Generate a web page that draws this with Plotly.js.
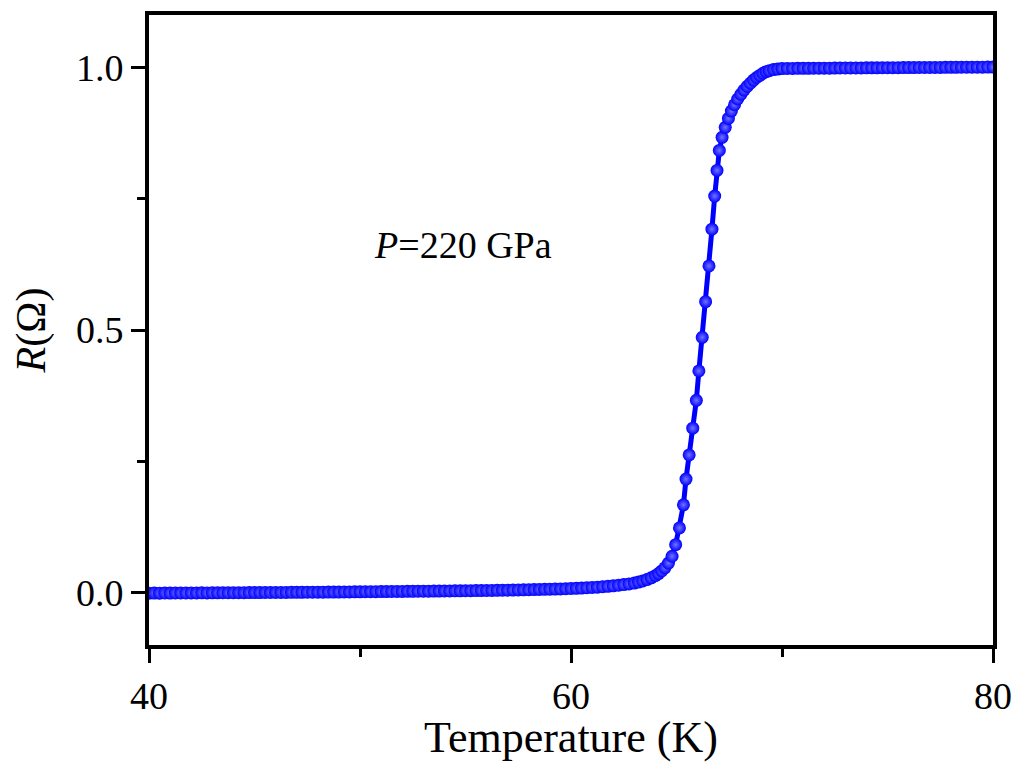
<!DOCTYPE html>
<html>
<head>
<meta charset="utf-8">
<script src="https://cdn.plot.ly/plotly-3.0.1.min.js"></script>
<style>html,body{margin:0;padding:0;background:#fff;}#chart{width:1014px;height:762px;}</style>
</head>
<body>
<div id="chart"></div>
<script>
// Temperature (K)
var temperature = [
40.00,40.25,40.50,40.75,41.00,41.25,41.50,41.75,42.00,42.25,42.50,42.75,43.00,43.25,43.50,43.75,
44.00,44.25,44.50,44.75,45.00,45.25,45.50,45.75,46.00,46.25,46.50,46.75,47.00,47.25,47.50,47.75,
48.00,48.25,48.50,48.75,49.00,49.25,49.50,49.75,50.00,50.25,50.50,50.75,51.00,51.25,51.50,51.75,
52.00,52.25,52.50,52.75,53.00,53.25,53.50,53.75,54.00,54.25,54.50,54.75,55.00,55.25,55.50,55.75,
56.00,56.25,56.50,56.75,57.00,57.25,57.50,57.75,58.00,58.25,58.50,58.75,59.00,59.25,59.50,59.75,
60.00,60.25,60.50,60.75,61.00,61.25,61.50,61.75,62.00,62.25,62.50,62.75,
63.00,63.20,63.40,63.60,63.80,64.00,64.15,64.30,64.45,64.62,
64.79,64.96,65.14,65.33,65.45,65.60,65.77,65.94,66.06,66.22,66.38,66.54,66.68,66.81,66.92,67.03,67.16,67.31,67.46,
67.60,67.75,67.90,68.05,68.20,68.35,68.50,68.65,68.80,68.95,69.10,69.25,69.40,69.60,69.80,70.00,
70.25,70.50,70.75,71.00,71.25,71.50,71.75,72.00,72.25,72.50,72.75,73.00,73.25,73.50,73.75,74.00,
74.25,74.50,74.75,75.00,75.25,75.50,75.75,76.00,76.25,76.50,76.75,77.00,77.25,77.50,77.75,78.00,
78.25,78.50,78.75,79.00,79.25,79.50,79.75,80.00
];
// Resistance R (Ohm)
var resistance = [
-0.0012,-0.0011,-0.0012,-0.0010,-0.0011,-0.0010,-0.0009,-0.0010,-0.0008,-0.0009,-0.0007,-0.0008,-0.0006,-0.0006,-0.0005,-0.0005,
-0.0004,-0.0004,-0.0003,-0.0002,-0.0002,-0.0001,0.0000,0.0000,0.0001,0.0001,0.0002,0.0003,0.0003,0.0004,0.0005,0.0005,
0.0006,0.0007,0.0008,0.0008,0.0009,0.0010,0.0011,0.0012,0.0013,0.0014,0.0015,0.0016,0.0017,0.0018,0.0019,0.0020,
0.0021,0.0022,0.0023,0.0024,0.0025,0.0026,0.0027,0.0028,0.0029,0.0030,0.0031,0.0032,0.0033,0.0034,0.0036,0.0037,
0.0038,0.0040,0.0041,0.0043,0.0045,0.0047,0.0049,0.0051,0.0053,0.0055,0.0058,0.0060,0.0063,0.0066,0.0069,0.0072,
0.0076,0.0080,0.0085,0.0090,0.0096,0.0102,0.0110,0.0118,0.0127,0.0138,0.0150,0.0164,
0.0180,0.0198,0.0220,0.0247,0.0280,0.0320,0.0360,0.0410,0.0470,0.0560,
0.069,0.091,0.123,0.167,0.216,0.262,0.313,0.366,0.422,0.486,0.554,0.622,0.692,0.755,0.804,0.842,0.867,0.886,0.903,
0.917,0.929,0.940,0.949,0.957,0.964,0.970,0.976,0.981,0.985,0.989,0.992,0.994,0.996,0.997,0.998,
0.9982,0.9983,0.9984,0.9985,0.9985,0.9986,0.9987,0.9988,0.9988,0.9989,0.9990,0.9990,0.9991,0.9992,0.9992,0.9993,
0.9994,0.9994,0.9995,0.9996,0.9996,0.9997,0.9998,0.9998,0.9999,1.0000,1.0000,1.0001,1.0002,1.0002,1.0003,1.0004,
1.0004,1.0005,1.0006,1.0006,1.0007,1.0007,1.0008,1.0008
];
var xTickVals = [40, 60, 80];
var yTickVals = [0.0, 0.5, 1.0];
var annotationText = '<i>P</i>=220 GPa';

var serif = 'Liberation Serif, Times New Roman, serif';

var trace = {
  x: temperature,
  y: resistance,
  type: 'scatter',
  mode: 'lines+markers',
  line: {color: '#0000ff', width: 5},
  marker: {
    color: '#0000ff',
    size: 13,
    gradient: {type: 'radial', color: '#7373ff'},
    line: {width: 0}
  },
  hoverinfo: 'x+y'
};

var axisCommon = {
  showline: true, linecolor: '#000', linewidth: 4, mirror: true,
  showgrid: false, zeroline: false,
  ticks: 'outside', ticklen: 14, tickwidth: 3, tickcolor: '#000',
  tickfont: {family: serif, size: 38, color: '#000'}
};

var layout = {
  width: 1014, height: 762,
  margin: {l: 149, r: 21, t: 15, b: 117},
  paper_bgcolor: '#fff', plot_bgcolor: '#fff',
  showlegend: false,
  xaxis: Object.assign({}, axisCommon, {
    range: [40, 80],
    tickmode: 'array', tickvals: xTickVals, ticktext: xTickVals.map(String),
    minor: {dtick: 10, tick0: 40, ticks: 'outside', ticklen: 8, tickwidth: 3, tickcolor: '#000'},
    title: {text: 'Temperature (K)', font: {family: serif, size: 44, color: '#000'}, standoff: 12}
  }),
  yaxis: Object.assign({}, axisCommon, {
    range: [-0.1, 1.1],
    tickmode: 'array', tickvals: yTickVals, ticktext: yTickVals.map(function(v){return v.toFixed(1);}),
    minor: {dtick: 0.25, tick0: 0, ticks: 'outside', ticklen: 8, tickwidth: 3, tickcolor: '#000'},
    title: {text: '<i>R</i>(Ω)', font: {family: serif, size: 42, color: '#000'}, standoff: 18}
  }),
  annotations: [{
    x: 54.9, y: 0.662, xref: 'x', yref: 'y',
    text: annotationText, showarrow: false,
    font: {family: serif, size: 38, color: '#000'}
  }]
};

Plotly.newPlot('chart', [trace], layout, {displayModeBar: false, staticPlot: true});
</script>
</body>
</html>
